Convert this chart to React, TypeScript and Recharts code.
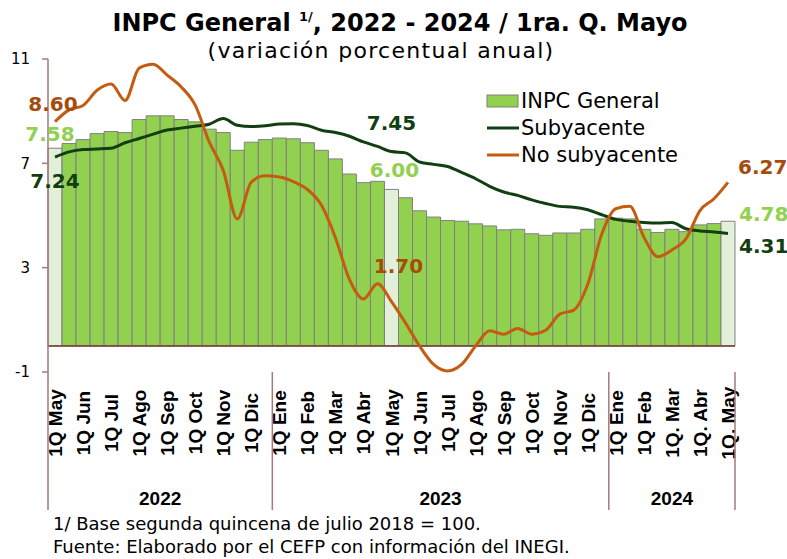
import React from 'react';
import { ComposedChart, Bar, Line, XAxis, YAxis, Legend, ReferenceLine, LabelList, Cell } from 'recharts';

// quincenas, de 1Q mayo 2022 a 1Q mayo 2024
const quincenas = [
  '1Q May', '2Q May', '1Q Jun', '2Q Jun', '1Q Jul', '2Q Jul', '1Q Ago', '2Q Ago',
  '1Q Sep', '2Q Sep', '1Q Oct', '2Q Oct', '1Q Nov', '2Q Nov', '1Q Dic', '2Q Dic',
  '1Q Ene', '2Q Ene', '1Q Feb', '2Q Feb', '1Q Mar', '2Q Mar', '1Q Abr', '2Q Abr',
  '1Q May', '2Q May', '1Q Jun', '2Q Jun', '1Q Jul', '2Q Jul', '1Q Ago', '2Q Ago',
  '1Q Sep', '2Q Sep', '1Q Oct', '2Q Oct', '1Q Nov', '2Q Nov', '1Q Dic', '2Q Dic',
  '1Q Ene', '2Q Ene', '1Q Feb', '2Q Feb', '1Q. Mar', '2Q. Mar', '1Q. Abr', '2Q. Abr', '1Q. May',
];
const anios = ['2022', '2023', '2024'];
const series = ['INPC General', 'Subyacente', 'No subyacente'];

const inpcGeneral = [
  7.58, 7.76, 7.91, 8.14, 8.22, 8.18, 8.68, 8.82, 8.82, 8.68, 8.59, 8.31, 8.18, 7.50, 7.81, 7.91,
  7.97, 7.94, 7.79, 7.50, 7.17, 6.59, 6.26, 6.31, 6.00, 5.68, 5.18, 4.94, 4.81, 4.78, 4.68, 4.60,
  4.45, 4.47, 4.30, 4.24, 4.33, 4.33, 4.47, 4.87, 4.90, 4.87, 4.47, 4.35, 4.47, 4.38, 4.64, 4.69, 4.78,
];
const subyacente = [
  7.24, 7.44, 7.53, 7.55, 7.58, 7.79, 7.95, 8.12, 8.28, 8.35, 8.42, 8.50, 8.72, 8.46, 8.41, 8.44,
  8.51, 8.52, 8.45, 8.27, 8.18, 8.04, 7.82, 7.65, 7.45, 7.40, 7.05, 6.96, 6.88, 6.65, 6.41, 6.12,
  5.90, 5.77, 5.60, 5.46, 5.35, 5.32, 5.22, 5.03, 4.85, 4.78, 4.73, 4.71, 4.73, 4.49, 4.41, 4.37, 4.31,
];
const noSubyacente = [
  8.60, 9.05, 9.22, 9.80, 10.04, 9.41, 10.65, 10.80, 10.38, 9.93, 9.23, 7.82, 6.73, 4.87, 6.28, 6.52,
  6.48, 6.30, 6.00, 5.40, 4.15, 2.55, 1.80, 2.38, 1.70, 0.88, 0.00, -0.71, -0.96, -0.71, 0.00, 0.58,
  0.45, 0.67, 0.45, 0.60, 1.22, 1.37, 2.37, 4.29, 5.26, 5.35, 4.17, 3.42, 3.68, 4.10, 5.19, 5.64, 6.27,
];
const yTicks = [-1, 3, 7, 11];

const data = quincenas.map((q, i) => ({
  q,
  general: inpcGeneral[i],
  sub: subyacente[i],
  nosub: noSubyacente[i],
}));

// a new year starts at each "1Q Ene"
const grupo: number[] = [];
quincenas.forEach((q, i) => grupo.push(i === 0 ? 0 : grupo[i - 1] + (q === '1Q Ene' ? 1 : 0)));
const porAnio = anios.map((_, g) => grupo.filter((x) => x === g).length);
const esMayo = (q: string) => q.startsWith('1Q') && q.endsWith('May');

const gothic = '"DejaVu Sans", sans-serif';
const arial = '"Liberation Sans", Arial, sans-serif';
const ejeColor = '#a27a7a';

const QuincenaTick = (props: any) => {
  const { x, y, payload } = props;
  const i = props.index ?? payload.index;
  const half = props.width ? props.width / quincenas.length / 2 : 7;
  const q = quincenas[i];
  const left = x - half;
  const nuevo = i === 0 || grupo[i] !== grupo[i - 1];
  return (
    <g>
      {q.startsWith('1Q') && (
        <text
          x={x + 7}
          y={y + 51}
          transform={`rotate(-90, ${x + 7}, ${y + 51})`}
          textAnchor="middle"
          fontFamily={arial}
          fontWeight="bold"
          fontSize={19}
          fill="#000"
        >
          {q}
        </text>
      )}
      {nuevo && <line x1={left} x2={left} y1={y} y2={y + 138} stroke={ejeColor} strokeWidth={1.5} />}
      {i === quincenas.length - 1 && (
        <line x1={x + half} x2={x + half} y1={y} y2={y + 138} stroke={ejeColor} strokeWidth={1.5} />
      )}
      {nuevo && (
        <text
          x={left + porAnio[grupo[i]] * half}
          y={y + 133}
          textAnchor="middle"
          fontFamily={arial}
          fontWeight="bold"
          fontSize={19}
          fill="#000"
        >
          {anios[grupo[i]]}
        </text>
      )}
    </g>
  );
};

type Pos = Record<number, [number, number, 'start' | 'middle' | 'end']>;
const etiqueta = (color: string, pos: Pos, barra = false) => (p: any) => {
  const o = pos[p.index];
  if (!o || p.value == null) return null;
  const cx = barra ? p.x + p.width / 2 : p.x;
  return (
    <text
      x={cx + o[0]}
      y={p.y + o[1]}
      textAnchor={o[2]}
      fontFamily={gothic}
      fontWeight="bold"
      fontSize={20}
      fill={color}
    >
      {Number(p.value).toFixed(2)}
    </text>
  );
};

const Leyenda = (props: any) => {
  const payload = [...(props.payload || [])].sort(
    (a: any, b: any) => series.indexOf(a.value) - series.indexOf(b.value)
  );
  return (
    <svg width={230} height={80}>
      {payload.map((p: any, k: number) => {
        const cy = 13 + k * 27;
        return (
          <g key={k}>
            {p.type === 'rect' ? (
              <rect x={3} y={cy - 6} width={31} height={12} fill={p.color} stroke="#7f7f7f" />
            ) : (
              <line x1={3} x2={35} y1={cy} y2={cy} stroke={p.color} strokeWidth={3} />
            )}
            <text x={37} y={cy + 7} fontSize={21} fontFamily={gothic} fill="#000">
              {p.value}
            </text>
          </g>
        );
      })}
    </svg>
  );
};

export default function App() {
  return (
    <div style={{ position: 'absolute', left: 0, top: 0, width: 787, height: 559, background: '#fff' }}>
      <ComposedChart
        width={787}
        height={559}
        data={data}
        margin={{ top: 59, right: 52, bottom: 47, left: 8 }}
        barCategoryGap={0}
        barGap={0}
      >
        <XAxis
          dataKey="q"
          interval={0}
          height={140}
          axisLine={false}
          tickLine={false}
          tickSize={0}
          tickMargin={0}
          tick={<QuincenaTick />}
        />
        <YAxis
          width={40}
          domain={[-1, 11]}
          ticks={yTicks}
          interval={0}
          tickSize={6}
          tickMargin={12}
          axisLine={{ stroke: ejeColor, strokeWidth: 1.5 }}
          tickLine={{ stroke: ejeColor, strokeWidth: 1.5 }}
          tick={{ fontSize: 15, fontFamily: gothic, fill: '#000' }}
        />
        <Legend
          layout="vertical"
          verticalAlign="middle"
          align="center"
          wrapperStyle={{ left: 484, top: 88, width: 230 }}
          content={<Leyenda />}
        />
        <Bar dataKey="general" name={series[0]} fill="#92d050" stroke="#808080" strokeWidth={1} isAnimationActive={false}>
          {data.map((d, i) => (
            <Cell key={i} fill={esMayo(d.q) ? '#e2efd9' : '#92d050'} />
          ))}
          <LabelList
            dataKey="general"
            content={etiqueta('#92d050', { 0: [-5, -7, 'middle'], 24: [3, -12, 'middle'], 48: [11, 0, 'start'] }, true)}
          />
        </Bar>
        <ReferenceLine y={0} stroke="#7a3434" strokeWidth={1.5} />
        <Line
          dataKey="sub"
          name={series[1]}
          type="monotone"
          stroke="#113f11"
          strokeWidth={3}
          dot={false}
          isAnimationActive={false}
        >
          <LabelList
            dataKey="sub"
            content={etiqueta('#123f12', { 0: [0, 31, 'middle'], 24: [0, -22, 'middle'], 48: [11, 20, 'start'] })}
          />
        </Line>
        <Line
          dataKey="nosub"
          name={series[2]}
          type="monotone"
          stroke="#c55a11"
          strokeWidth={3}
          dot={false}
          isAnimationActive={false}
        >
          <LabelList
            dataKey="nosub"
            content={etiqueta('#a54c0d', { 0: [-2, -11, 'middle'], 24: [7, -29, 'middle'], 48: [10, -8, 'start'] })}
          />
        </Line>
      </ComposedChart>
      <svg width={787} height={559} style={{ position: 'absolute', left: 0, top: 0, pointerEvents: 'none' }}>
        <text x={400} y={31} textAnchor="middle" fontFamily={gothic} fontWeight="bold" fontSize={24} fill="#000">
          INPC General <tspan fontSize={13} dy={-10}>1/</tspan>
          <tspan dy={10}>, 2022 - 2024 / 1ra. Q. Mayo</tspan>
        </text>
        <text x={381} y={58} textAnchor="middle" fontFamily={gothic} fontSize={22} letterSpacing={1.3} fill="#000">
          (variación porcentual anual)
        </text>
        <text x={53} y={530} fontFamily={gothic} fontSize={18} fill="#000">
          1/ Base segunda quincena de julio 2018 = 100.
        </text>
        <text x={53} y={553} fontFamily={gothic} fontSize={18} fill="#000">
          Fuente: Elaborado por el CEFP con información del INEGI.
        </text>
      </svg>
    </div>
  );
}
